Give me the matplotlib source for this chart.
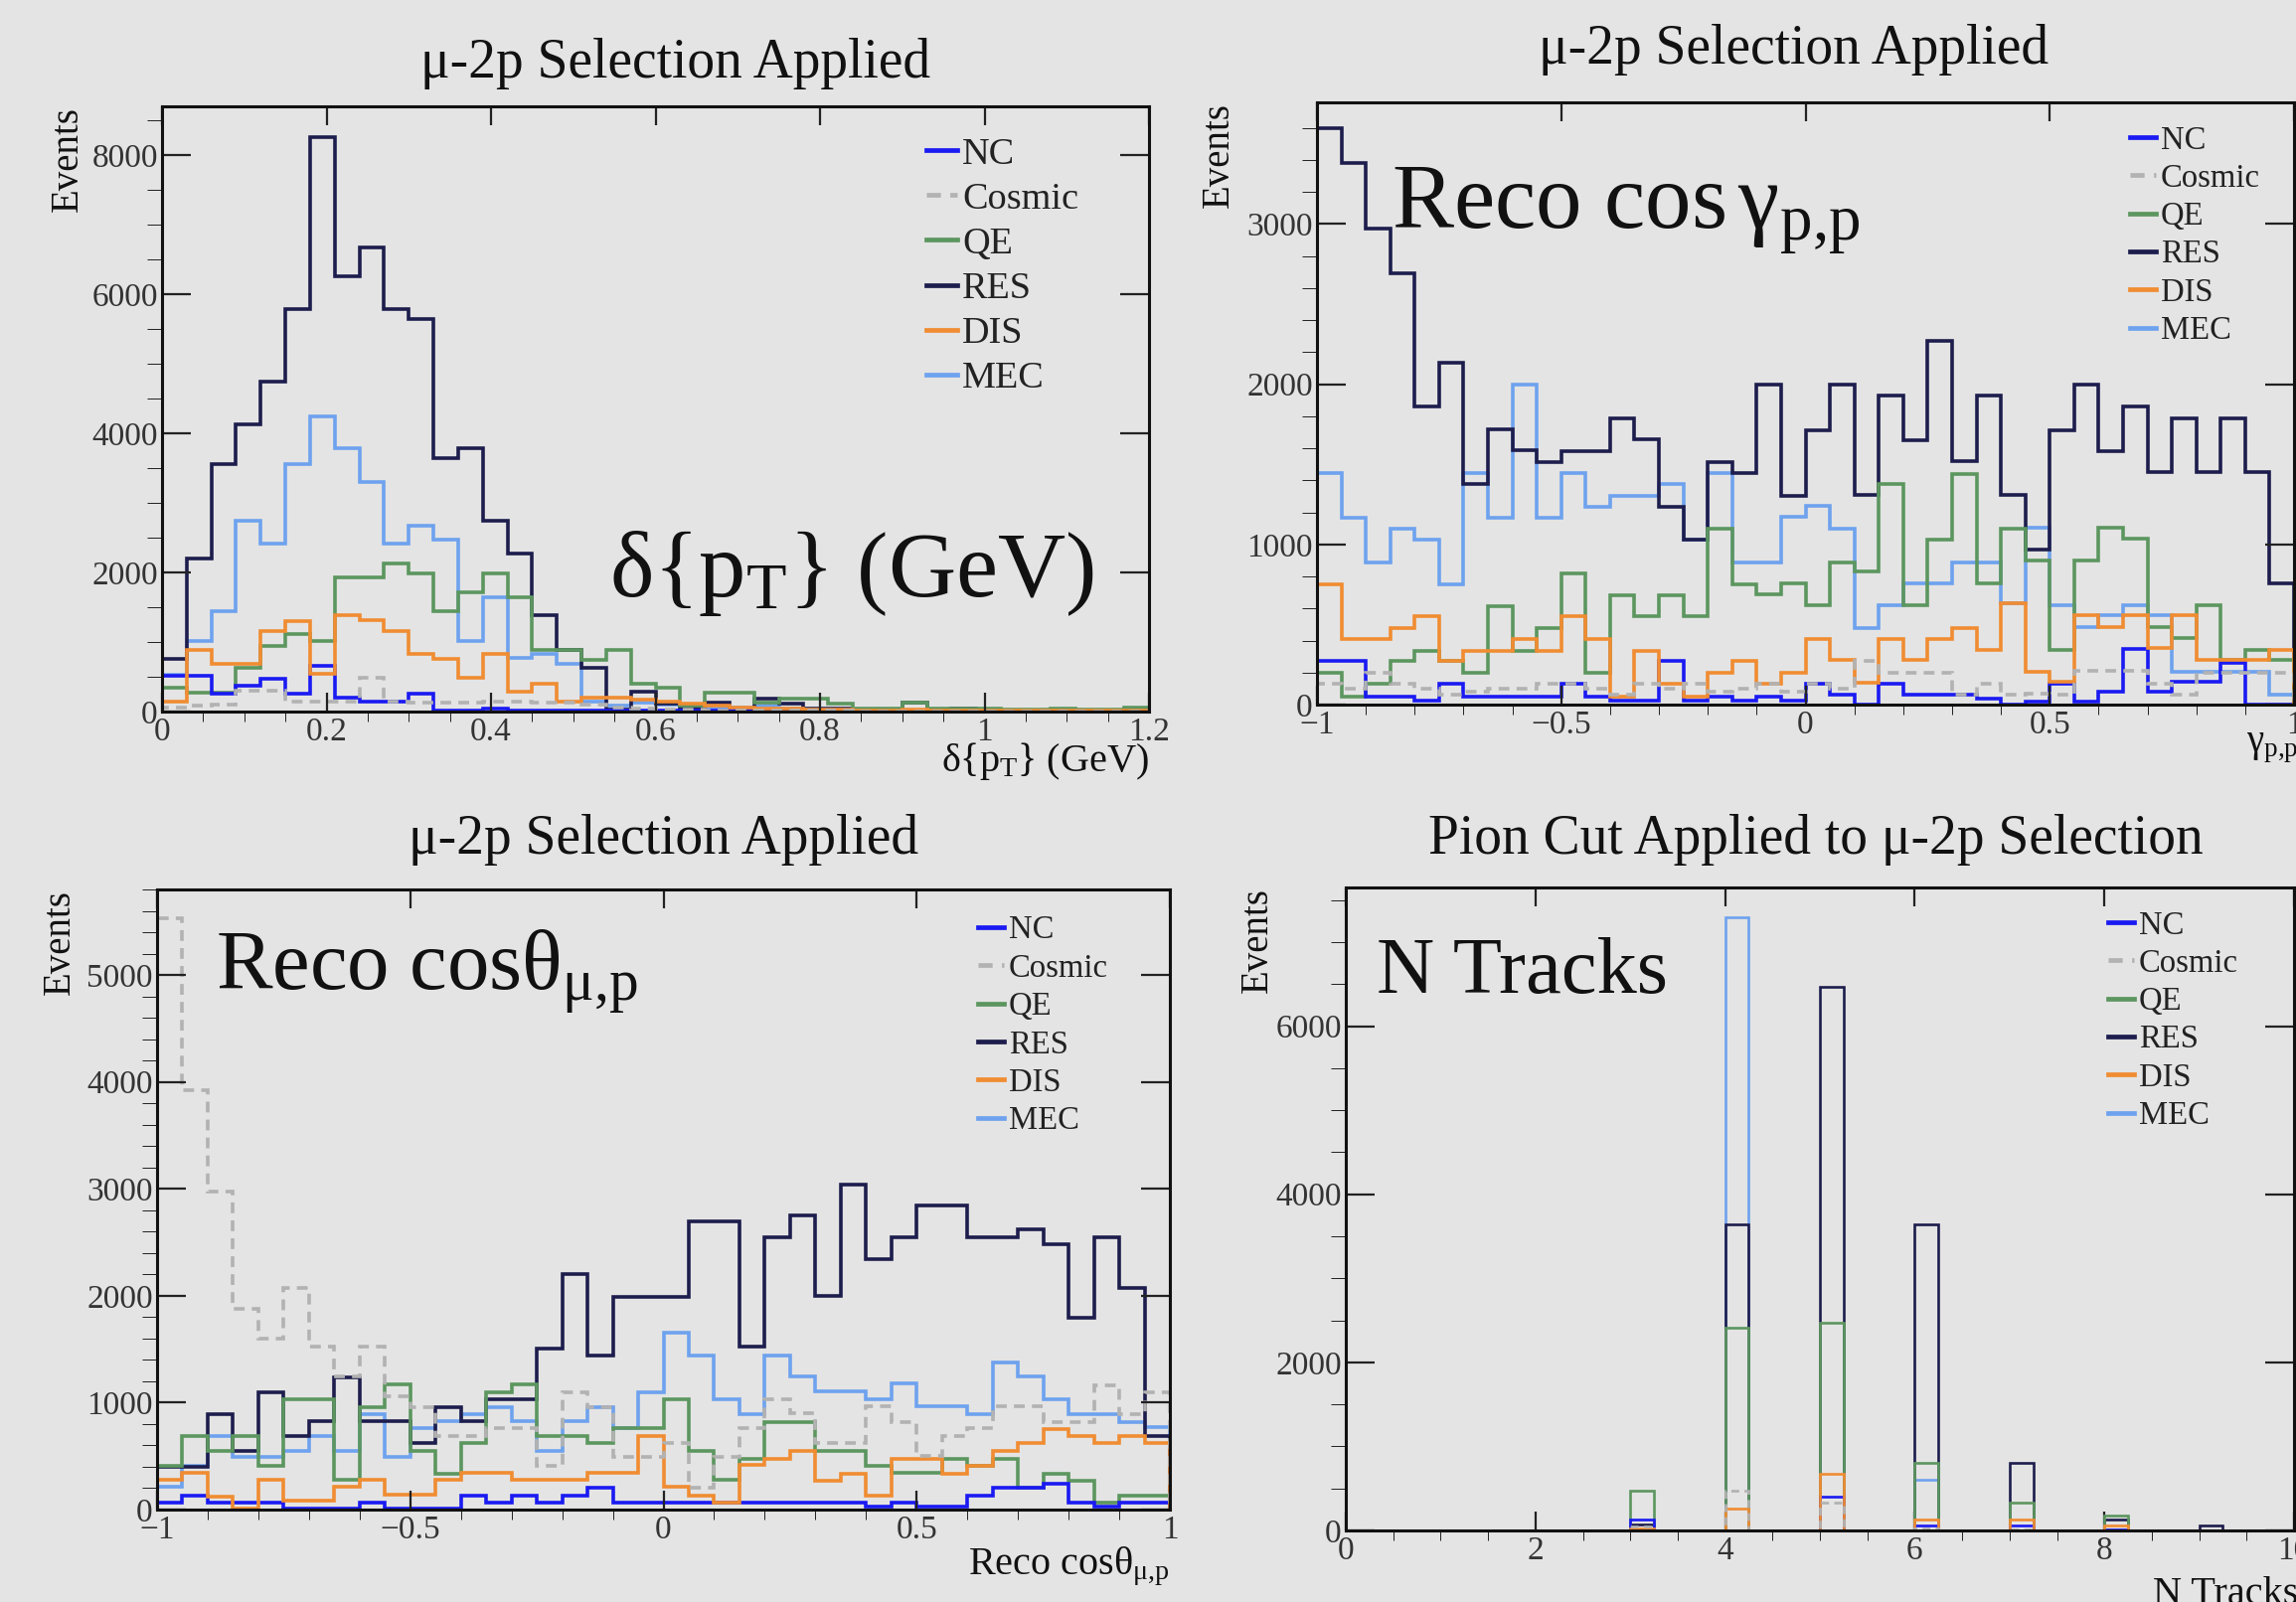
import numpy as np
import matplotlib.pyplot as plt
from matplotlib.lines import Line2D
from matplotlib.ticker import MultipleLocator, FuncFormatter

W, H = 2310, 1612
plt.rcParams['font.family'] = ['Liberation Serif', 'DejaVu Serif']
plt.rcParams['mathtext.fontset'] = 'custom'
plt.rcParams['mathtext.rm'] = 'Liberation Serif'
plt.rcParams['mathtext.it'] = 'Liberation Serif:italic'
plt.rcParams['mathtext.bf'] = 'Liberation Serif:bold'

BG = '#e4e4e4'
labels = ["NC", "Cosmic", "QE", "RES", "DIS", "MEC"]
colors = ['#1a1af2', '#b2b2b2', '#5c965f', '#1d1d4d', '#f08c32', '#6ea2ee']
styles = ['-', (0, (3, 2)), '-', '-', '-', '-']
draw_order = [5, 3, 2, 0, 4, 1]   # MEC, RES, QE, NC, DIS, Cosmic

# --- delta pT (40 bins, 0 - 1.2 GeV) ---
dpt_nc = [520, 520, 260, 370, 470, 260, 660, 200, 145, 145, 260, 10, 10, 45, 10, 20, 20, 20, 20, 20,
          10, 10, 10, 10, 10, 5, 5, 5, 5, 5, 0, 0, 0, 0, 0, 0, 0, 0, 0, 0]
dpt_cosmic = [60, 80, 100, 300, 300, 150, 150, 150, 480, 150, 130, 130, 130, 150, 150, 130, 130, 100, 60, 40,
              30, 30, 20, 20, 10, 10, 10, 10, 5, 5, 5, 5, 0, 0, 0, 0, 0, 0, 0, 0]
dpt_qe = [345, 275, 275, 630, 950, 1120, 1020, 1925, 1925, 2130, 1980, 1440, 1720, 1980, 1650, 880, 880, 750, 880, 400,
          340, 80, 275, 275, 130, 180, 180, 115, 50, 50, 130, 50, 50, 40, 30, 30, 40, 30, 30, 60]
dpt_res = [760, 2200, 3560, 4130, 4740, 5790, 8260, 6260, 6670, 5790, 5640, 3650, 3780, 2750, 2270, 1380, 890, 630, 30, 280,
           110, 50, 130, 50, 190, 110, 40, 40, 20, 20, 130, 20, 40, 10, 10, 0, 10, 0, 0, 0]
dpt_dis = [145, 890, 690, 690, 1160, 1300, 545, 1380, 1320, 1160, 830, 760, 490, 830, 290, 400, 145, 200, 200, 170,
           150, 115, 80, 60, 40, 40, 30, 30, 20, 20, 30, 10, 10, 10, 10, 10, 10, 10, 10, 10]
dpt_mec = [530, 1020, 1440, 2750, 2410, 3560, 4250, 3780, 3300, 2410, 2670, 2470, 1020, 1650, 775, 830, 690, 150, 90, 130,
           100, 60, 60, 60, 80, 50, 30, 20, 20, 20, 20, 10, 10, 10, 10, 0, 0, 0, 0, 0]

# --- cos gamma p,p (40 bins, -1 - 1) ---
gpp_nc = [270, 270, 50, 50, 25, 130, 50, 50, 50, 50, 130, 50, 25, 25, 270, 25, 50, 25, 50, 25,
          130, 65, 0, 130, 65, 65, 65, 35, 0, 20, 130, 20, 80, 350, 80, 145, 145, 260, 0, 0]
gpp_cosmic = [130, 100, 200, 130, 100, 60, 80, 100, 100, 130, 130, 100, 60, 130, 100, 130, 80, 100, 130, 80,
              130, 100, 270, 200, 200, 200, 60, 130, 60, 70, 60, 210, 210, 210, 130, 60, 200, 200, 200, 200]
gpp_qe = [200, 50, 130, 270, 335, 270, 200, 615, 335, 475, 820, 200, 680, 550, 680, 550, 1100, 750, 690, 760,
          620, 890, 830, 1375, 620, 1030, 1440, 760, 1100, 900, 340, 900, 1105, 1035, 487, 414, 620, 280, 340, 280]
gpp_res = [3600, 3380, 2970, 2690, 1860, 2135, 1375, 1720, 1590, 1515, 1585, 1585, 1790, 1655, 1235, 1030, 1515, 1445, 1995, 1305,
           1715, 2000, 1310, 1930, 1650, 2270, 1520, 1930, 1310, 965, 1715, 2000, 1585, 1860, 1450, 1790, 1450, 1790, 1450, 760]
gpp_dis = [750, 410, 410, 475, 550, 270, 335, 335, 410, 335, 550, 410, 50, 335, 130, 50, 200, 270, 130, 200,
           410, 280, 135, 410, 280, 410, 480, 340, 630, 207, 145, 560, 487, 560, 352, 560, 280, 280, 280, 340]
gpp_mec = [1445, 1165, 890, 1100, 1030, 750, 1445, 1165, 1995, 1165, 1445, 1235, 1305, 1305, 1375, 1030, 1445, 890, 890, 1170,
           1240, 1100, 480, 620, 760, 760, 890, 890, 630, 1105, 620, 487, 560, 620, 560, 207, 207, 207, 207, 65]

# --- cos theta mu,p (40 bins, -1 - 1) ---
tmp_nc = [65, 130, 65, 65, 65, 10, 10, 10, 65, 10, 10, 10, 130, 65, 130, 65, 130, 200, 65, 65,
          65, 65, 65, 65, 65, 65, 65, 65, 30, 65, 30, 30, 130, 200, 200, 240, 65, 30, 65, 65]
tmp_cosmic = [5530, 3925, 2970, 1875, 1595, 2070, 1525, 1250, 1525, 1055, 955, 685, 685, 760, 760, 410, 1100, 955, 490, 490,
              625, 200, 490, 765, 1035, 900, 625, 625, 970, 820, 500, 690, 765, 970, 970, 820, 820, 1165, 895, 1100]
tmp_qe = [410, 685, 550, 685, 410, 1035, 1035, 275, 960, 1170, 550, 330, 620, 1100, 1170, 685, 685, 620, 760, 760,
          1035, 550, 280, 475, 820, 820, 550, 550, 410, 345, 345, 475, 410, 475, 200, 330, 270, 65, 130, 130]
tmp_res = [400, 400, 890, 550, 1100, 685, 830, 1240, 830, 830, 620, 960, 830, 1035, 1035, 1510, 2205, 1445, 1990, 1990,
           1990, 2700, 2700, 1520, 2550, 2755, 2000, 3035, 2345, 2550, 2840, 2840, 2550, 2550, 2620, 2485, 1795, 2550, 2075, 690]
tmp_dis = [275, 345, 120, 10, 275, 80, 80, 215, 275, 135, 135, 275, 345, 345, 275, 275, 275, 345, 345, 685,
           215, 130, 65, 420, 475, 550, 270, 330, 130, 475, 475, 330, 410, 550, 620, 755, 690, 620, 690, 620]
tmp_mec = [215, 410, 685, 490, 490, 550, 685, 550, 890, 490, 760, 830, 890, 960, 830, 550, 830, 960, 760, 1100,
           1650, 1445, 1035, 895, 1445, 1250, 1110, 1110, 1035, 1180, 965, 965, 895, 1380, 1250, 1035, 895, 895, 820, 770]

# --- N tracks (pion cut) ---
ntr_n = [3, 4, 5, 6, 7, 8, 9]
ntr_nc = [125, 0, 400, 55, 55, 15, 0]
ntr_cosmic = [45, 475, 330, 20, 10, 5, 0]
ntr_qe = [475, 2410, 2475, 805, 330, 180, 0]
ntr_res = [70, 3640, 6470, 3640, 805, 125, 55]
ntr_dis = [20, 265, 675, 125, 125, 55, 0]
ntr_mec = [0, 7300, 0, 605, 0, 0, 0]

fig = plt.figure(figsize=(W / 100, H / 100), dpi=100, facecolor=BG)


def fpos(x, y):
    return x / W, 1 - y / H


def make_axes(l, t, r, b):
    ax = fig.add_axes([l / W, 1 - b / H, (r - l) / W, (b - t) / H])
    ax.set_facecolor(BG)
    for s in ax.spines.values():
        s.set_linewidth(2.2)
        s.set_color('#111111')
    return ax


def fmt(v, pos):
    return ('%g' % v).replace('-', '\u2212')


def style_axes(ax, xlim, ylim, xmaj, xmin, ymaj, ymin):
    ax.set_xlim(*xlim)
    ax.set_ylim(*ylim)
    ax.xaxis.set_major_locator(MultipleLocator(xmaj))
    ax.xaxis.set_minor_locator(MultipleLocator(xmin))
    ax.yaxis.set_major_locator(MultipleLocator(ymaj))
    ax.yaxis.set_minor_locator(MultipleLocator(ymin))
    ax.xaxis.set_major_formatter(FuncFormatter(fmt))
    ax.yaxis.set_major_formatter(FuncFormatter(fmt))
    ax.tick_params(direction='in', top=True, right=True, labelsize=24,
                   labelcolor='#333333', color='#222222', width=1.6)
    ax.tick_params(axis='x', which='major', length=14, pad=4)
    ax.tick_params(axis='x', which='minor', length=7)
    ax.tick_params(axis='y', which='major', length=21, pad=3)
    ax.tick_params(axis='y', which='minor', length=11)


def add_legend(ax, x, y, size, spacing):
    handles = [Line2D([], [], color=c, lw=3.4, ls=s) for c, s in zip(colors, styles)]
    leg = ax.legend(handles, labels, loc='upper left', bbox_to_anchor=fpos(x, y),
                    bbox_transform=fig.transFigure, frameon=False, fontsize=size,
                    handlelength=0.8, handletextpad=0.15, labelspacing=spacing,
                    borderpad=0, borderaxespad=0)
    for t in leg.get_texts():
        t.set_color('#222222')


def draw_hists(ax, series, edges, lw=2.6):
    for i in draw_order:
        ax.stairs(series[i], edges, color=colors[i], lw=lw, ls=styles[i])


def ftext(x, y, s, size, **kw):
    fig.text(*fpos(x, y), s, fontsize=size, color='#111111', **kw)


# panel 1: delta pT
ax1 = make_axes(163, 107, 1156, 716)
edges1 = np.linspace(0, 1.2, 41)
draw_hists(ax1, [dpt_nc, dpt_cosmic, dpt_qe, dpt_res, dpt_dis, dpt_mec], edges1)
style_axes(ax1, (0, 1.2), (0, 8700), 0.2, 0.05, 2000, 500)
add_legend(ax1, 932, 138, 27.5, 0.27)
ftext(680, 78, "\u03bc-2p Selection Applied", 40, ha='center', va='baseline')
ftext(68, 107, "Events", 28, rotation=90, ha='center', va='top')
ftext(1156, 776, r"$\mathrm{\delta\{p_{T}\}\ (GeV)}$", 29, ha='right', va='baseline')
ftext(613, 600, r"$\mathrm{\delta\{p_{T}\}\ (GeV)}$", 68, ha='left', va='baseline')

# panel 2: cos gamma p,p
ax2 = make_axes(1325, 103, 2308, 709)
edges2 = np.linspace(-1, 1, 41)
draw_hists(ax2, [gpp_nc, gpp_cosmic, gpp_qe, gpp_res, gpp_dis, gpp_mec], edges2)
style_axes(ax2, (-1, 1), (0, 3760), 0.5, 0.1, 1000, 200)
add_legend(ax2, 2143, 126, 23.5, 0.24)
ftext(1805, 64, "\u03bc-2p Selection Applied", 40, ha='center', va='baseline')
ftext(1226, 103, "Events", 28, rotation=90, ha='center', va='top')
ftext(2312, 756, r"$\mathrm{\gamma_{p{,}p}}$", 28, ha='right', va='baseline')
ftext(1400, 229, r"$\mathrm{Reco\ cos\,\gamma_{p{,}p}}$", 67, ha='left', va='baseline')

# panel 3: cos theta mu,p
ax3 = make_axes(158, 895, 1177, 1519)
edges3 = np.linspace(-1, 1, 41)
draw_hists(ax3, [tmp_nc, tmp_cosmic, tmp_qe, tmp_res, tmp_dis, tmp_mec], edges3)
style_axes(ax3, (-1, 1), (0, 5800), 0.5, 0.1, 1000, 200)
add_legend(ax3, 984, 921, 23.5, 0.24)
ftext(668, 859, "\u03bc-2p Selection Applied", 40, ha='center', va='baseline')
ftext(60, 895, "Events", 28, rotation=90, ha='center', va='top')
ftext(1177, 1584, r"$\mathrm{Reco\ cos\theta_{\mu{,}p}}$", 29, ha='right', va='baseline')
ftext(217, 996, r"$\mathrm{Reco\ cos\theta_{\mu{,}p}}$", 61, ha='left', va='baseline')

# panel 4: N tracks after pion cut
ax4 = make_axes(1354, 893, 2308, 1540)
edges4 = np.linspace(0, 10, 41)
for i in draw_order:
    vals = [ntr_nc, ntr_cosmic, ntr_qe, ntr_res, ntr_dis, ntr_mec][i]
    ax4.hist(ntr_n, bins=edges4, weights=vals, histtype='step', color=colors[i], lw=1.9, ls=styles[i])
style_axes(ax4, (0, 10), (0, 7650), 2, 0.5, 2000, 500)
add_legend(ax4, 2121, 916, 23.5, 0.24)
ftext(1827, 859, "Pion Cut Applied to \u03bc-2p Selection", 40, ha='center', va='baseline')
ftext(1265, 893, "Events", 28, rotation=90, ha='center', va='top')
ftext(2312, 1614, "N Tracks", 29, ha='right', va='baseline')
ftext(1385, 999, "N Tracks", 58, ha='left', va='baseline')

fig.savefig("out.png", dpi=100, facecolor=BG)
